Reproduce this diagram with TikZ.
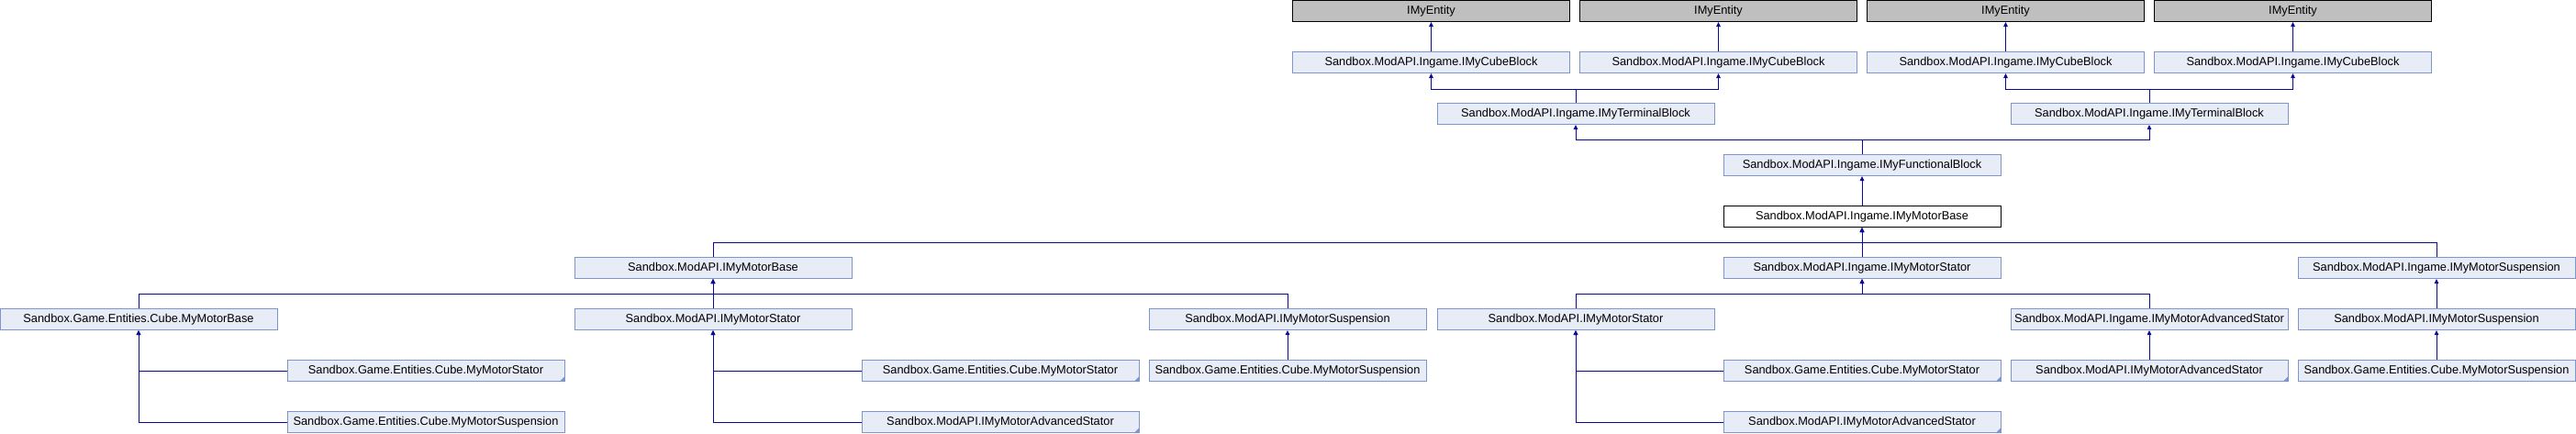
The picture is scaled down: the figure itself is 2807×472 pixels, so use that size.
\documentclass[tikz,border=0pt]{standalone}
\usepackage{fontspec}
\setmainfont{Liberation Sans}
\usetikzlibrary{arrows.meta}
\definecolor{boxfill}{HTML}{E8ECF6}
\definecolor{boxline}{HTML}{7F96CC}
\definecolor{extfill}{HTML}{BFBFBF}
\definecolor{inhline}{HTML}{0A0A9A}
\begin{document}
\begin{tikzpicture}[x=1pt,y=-1pt,
    every node/.style={font=\fontsize{12.8}{14}\selectfont},
    cls/.style={draw=boxline,fill=boxfill,line width=1pt,minimum width=302pt,minimum height=23pt,inner sep=0pt},
    ext/.style={cls,draw=black,fill=extfill},
    cur/.style={cls,draw=black,fill=white},
    inh/.style={draw=inhline,line width=1pt,-{Triangle[length=5pt,width=4.5pt]}}]
        \useasboundingbox (0,0) rectangle (2807,472);
        \node[ext] (E1) at (1559.5,12) {IMyEntity};
        \node[ext] (E2) at (1872.5,12) {IMyEntity};
        \node[ext] (E3) at (2185.5,12) {IMyEntity};
        \node[ext] (E4) at (2498.5,12) {IMyEntity};
        \node[cls] (C1) at (1559.5,68) {Sandbox.ModAPI.Ingame.IMyCubeBlock};
        \node[cls] (C2) at (1872.5,68) {Sandbox.ModAPI.Ingame.IMyCubeBlock};
        \node[cls] (C3) at (2185.5,68) {Sandbox.ModAPI.Ingame.IMyCubeBlock};
        \node[cls] (C4) at (2498.5,68) {Sandbox.ModAPI.Ingame.IMyCubeBlock};
        \node[cls] (T1) at (1717,124) {Sandbox.ModAPI.Ingame.IMyTerminalBlock};
        \node[cls] (T2) at (2342,124) {Sandbox.ModAPI.Ingame.IMyTerminalBlock};
        \node[cls] (F) at (2029,180) {Sandbox.ModAPI.Ingame.IMyFunctionalBlock};
        \node[cur] (B) at (2029,236) {Sandbox.ModAPI.Ingame.IMyMotorBase};
        \node[cls] (MB) at (777,292) {Sandbox.ModAPI.IMyMotorBase};
        \node[cls] (GS) at (2029,292) {Sandbox.ModAPI.Ingame.IMyMotorStator};
        \node[cls] (GU) at (2655,292) {Sandbox.ModAPI.Ingame.IMyMotorSuspension};
        \node[cls] (EB) at (151,348) {Sandbox.Game.Entities.Cube.MyMotorBase};
        \node[cls] (MS1) at (777,348) {Sandbox.ModAPI.IMyMotorStator};
        \node[cls] (MU1) at (1403,348) {Sandbox.ModAPI.IMyMotorSuspension};
        \node[cls] (MS2) at (1717,348) {Sandbox.ModAPI.IMyMotorStator};
        \node[cls] (GA) at (2342,348) {Sandbox.ModAPI.Ingame.IMyMotorAdvancedStator};
        \node[cls] (MU2) at (2655,348) {Sandbox.ModAPI.IMyMotorSuspension};
        \node[cls] (ES1) at (464,404) {Sandbox.Game.Entities.Cube.MyMotorStator};
        \node[cls] (ES2) at (1090,404) {Sandbox.Game.Entities.Cube.MyMotorStator};
        \node[cls] (EU1) at (1403,404) {Sandbox.Game.Entities.Cube.MyMotorSuspension};
        \node[cls] (ES3) at (2029,404) {Sandbox.Game.Entities.Cube.MyMotorStator};
        \node[cls] (MA1) at (2342,404) {Sandbox.ModAPI.IMyMotorAdvancedStator};
        \node[cls] (EU2) at (2655,404) {Sandbox.Game.Entities.Cube.MyMotorSuspension};
        \node[cls] (EU3) at (464,460) {Sandbox.Game.Entities.Cube.MyMotorSuspension};
        \node[cls] (MA2) at (1090,460) {Sandbox.ModAPI.IMyMotorAdvancedStator};
        \node[cls] (MA3) at (2029,460) {Sandbox.ModAPI.IMyMotorAdvancedStator};
        \foreach \n in {ES1,ES2,ES3,MA1,MA2,MA3}
            \fill[boxline] (\n.south east) -- ++(-6,0) -- ++(6,-6) -- cycle;
        \foreach \i in {1,2,3,4}
            \draw[inh] (C\i) -- (E\i);
        \draw[inh] (T1.north) -- ++(0,-15) -| (C1.south);
        \draw[inh] (T1.north) -- ++(0,-15) -| (C2.south);
        \draw[inh] (T2.north) -- ++(0,-15) -| (C3.south);
        \draw[inh] (T2.north) -- ++(0,-15) -| (C4.south);
        \draw[inh] (F.north) -- ++(0,-16) -| (T1.south);
        \draw[inh] (F.north) -- ++(0,-16) -| (T2.south);
        \draw[inh] (B) -- (F);
        \draw[inh] (MB.north) -- ++(0,-16) -| (B.south);
        \draw[inh] (GS) -- (B);
        \draw[inh] (GU.north) -- ++(0,-16) -| (B.south);
        \draw[inh] (EB.north) -- ++(0,-16) -| (MB.south);
        \draw[inh] (MS1) -- (MB);
        \draw[inh] (MU1.north) -- ++(0,-16) -| (MB.south);
        \draw[inh] (MS2.north) -- ++(0,-16) -| (GS.south);
        \draw[inh] (GA.north) -- ++(0,-16) -| (GS.south);
        \draw[inh] (MU2) -- (GU);
        \draw[inh] (ES1.west) -| (EB.south);
        \draw[inh] (EU3.west) -| (EB.south);
        \draw[inh] (ES2.west) -| (MS1.south);
        \draw[inh] (MA2.west) -| (MS1.south);
        \draw[inh] (EU1) -- (MU1);
        \draw[inh] (ES3.west) -| (MS2.south);
        \draw[inh] (MA3.west) -| (MS2.south);
        \draw[inh] (MA1) -- (GA);
        \draw[inh] (EU2) -- (MU2);
    \end{tikzpicture}
\end{document}
